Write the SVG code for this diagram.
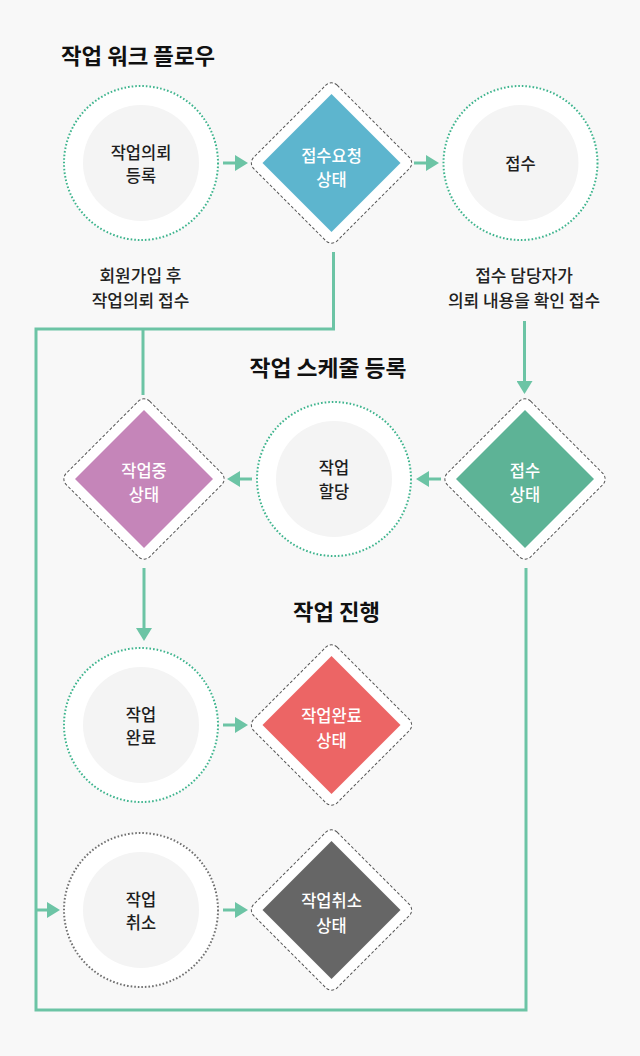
<svg xmlns="http://www.w3.org/2000/svg" width="640" height="1056" viewBox="0 0 640 1056">
<style>
.bg{fill:#f8f8f8}
.ring{fill:#ffffff;stroke:#3db48d;stroke-width:2;stroke-dasharray:1.6 2}
.ring.grey{stroke:#707070}
.core{fill:#f4f4f4}
.frame{fill:#ffffff;stroke:#555555;stroke-width:1;stroke-dasharray:3 2}
.wire{fill:none;stroke:#6cc4a5;stroke-width:3}
.title{font-family:"Noto Sans CJK KR","Noto Sans",sans-serif;font-size:22px;font-weight:bold;fill:#111111}
.lbl{font-family:"Noto Sans CJK KR","Noto Sans",sans-serif;font-size:17px;font-weight:500;fill:#222222;text-anchor:middle}
.nt{font-family:"Noto Sans CJK KR","Noto Sans",sans-serif;font-size:16.5px;font-weight:500;fill:#1e1e1e;text-anchor:middle}
.dt{font-family:"Noto Sans CJK KR","Noto Sans",sans-serif;font-size:16.5px;font-weight:500;fill:#ffffff;text-anchor:middle}
</style>
<defs>
<marker id="ah" markerUnits="userSpaceOnUse" markerWidth="13" markerHeight="16" refX="0" refY="8" orient="auto" viewBox="0 0 13 16">
<path d="M0,0 L13,8 L0,16 z" fill="#6cc4a5"/>
</marker>
</defs>
<rect class="bg" x="0" y="0" width="640" height="1056"/>

<text class="title" x="61" y="63.5" textLength="154" lengthAdjust="spacingAndGlyphs">작업 워크 플로우</text>
<text class="title" x="249.5" y="375.5" textLength="157" lengthAdjust="spacingAndGlyphs">작업 스케줄 등록</text>
<text class="title" x="293" y="619.5" textLength="87" lengthAdjust="spacingAndGlyphs">작업 진행</text>

<g id="connectors">
<path class="wire" d="M333.5,252 V329 H36 V1010 H526 V568"/>
<path class="wire" d="M143,329 V395"/>
<line class="wire" x1="223" y1="163" x2="235" y2="163" marker-end="url(#ah)"/>
<line class="wire" x1="414" y1="163" x2="426" y2="163" marker-end="url(#ah)"/>
<line class="wire" x1="524.5" y1="321" x2="524.5" y2="381" marker-end="url(#ah)"/>
<line class="wire" x1="441" y1="479" x2="429" y2="479" marker-end="url(#ah)"/>
<line class="wire" x1="252" y1="479" x2="240" y2="479" marker-end="url(#ah)"/>
<line class="wire" x1="144" y1="568" x2="144" y2="628" marker-end="url(#ah)"/>
<line class="wire" x1="223" y1="725" x2="235" y2="725" marker-end="url(#ah)"/>
<line class="wire" x1="223" y1="910" x2="235" y2="910" marker-end="url(#ah)"/>
<line class="wire" x1="36" y1="910" x2="47" y2="910" marker-end="url(#ah)"/>
</g>

<g id="label-signup">
<text class="lbl" x="140.5" y="281.5">회원가입 후</text>
<text class="lbl" x="140.5" y="306.5">작업의뢰 접수</text>
</g>
<g id="label-confirm">
<text class="lbl" x="524" y="281.5">접수 담당자가</text>
<text class="lbl" x="524" y="306.5">의뢰 내용을 확인 접수</text>
</g>

<g id="node-request" transform="translate(141,163)">
<circle class="ring" r="77"/>
<circle class="core" r="58"/>
<text class="nt" y="-4.5">작업의뢰</text>
<text class="nt" y="18.5">등록</text>
</g>

<g id="node-request-state" transform="translate(331.5,163)">
<rect class="frame" x="-59" y="-59" width="118" height="118" rx="8" transform="rotate(45)"/>
<polygon points="0,-69 69,0 0,69 -69,0" fill="#5db5ce"/>
<text class="dt" y="-1.5">접수요청</text>
<text class="dt" y="22.5">상태</text>
</g>

<g id="node-accept" transform="translate(520.5,163)">
<circle class="ring" r="77"/>
<circle class="core" r="58"/>
<text class="nt" y="6.5">접수</text>
</g>

<g id="node-accept-state" transform="translate(525,479)">
<rect class="frame" x="-59" y="-59" width="118" height="118" rx="8" transform="rotate(45)"/>
<polygon points="0,-69 69,0 0,69 -69,0" fill="#5db396"/>
<text class="dt" y="-2.5">접수</text>
<text class="dt" y="21.5">상태</text>
</g>

<g id="node-assign" transform="translate(334,479)">
<circle class="ring" r="77"/>
<circle class="core" r="58"/>
<text class="nt" y="-5">작업</text>
<text class="nt" y="18.5">할당</text>
</g>

<g id="node-working-state" transform="translate(144,479)">
<rect class="frame" x="-59" y="-59" width="118" height="118" rx="8" transform="rotate(45)"/>
<polygon points="0,-69 69,0 0,69 -69,0" fill="#c585b9"/>
<text class="dt" y="-2.5">작업중</text>
<text class="dt" y="21.5">상태</text>
</g>

<g id="node-done" transform="translate(141,725)">
<circle class="ring" r="77"/>
<circle class="core" r="58"/>
<text class="nt" y="-4.5">작업</text>
<text class="nt" y="18.5">완료</text>
</g>

<g id="node-done-state" transform="translate(331.5,725)">
<rect class="frame" x="-59" y="-59" width="118" height="118" rx="8" transform="rotate(45)"/>
<polygon points="0,-69 69,0 0,69 -69,0" fill="#ec6565"/>
<text class="dt" y="-3">작업완료</text>
<text class="dt" y="21.5">상태</text>
</g>

<g id="node-cancel" transform="translate(141,910)">
<circle class="ring grey" r="77"/>
<circle class="core" r="58"/>
<text class="nt" y="-4.5">작업</text>
<text class="nt" y="18.5">취소</text>
</g>

<g id="node-cancel-state" transform="translate(331.5,910)">
<rect class="frame" x="-59" y="-59" width="118" height="118" rx="8" transform="rotate(45)"/>
<polygon points="0,-69 69,0 0,69 -69,0" fill="#666666"/>
<text class="dt" y="-3">작업취소</text>
<text class="dt" y="21.5">상태</text>
</g>
</svg>
